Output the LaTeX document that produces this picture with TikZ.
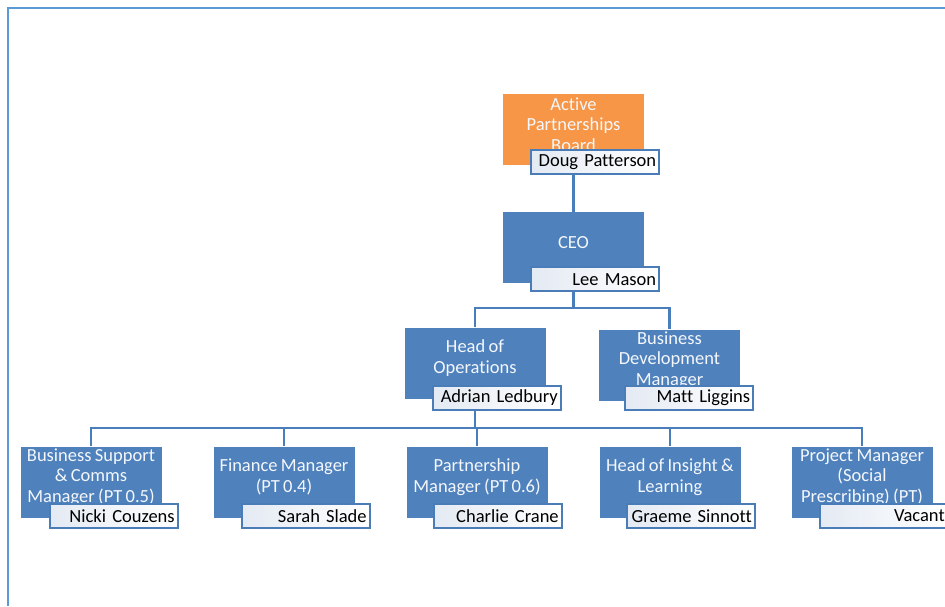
\documentclass[tikz,border=0pt]{standalone}
\usepackage{fontspec}
\setmainfont{Carlito}[Ligatures=CommonOff, WordSpace=0.8]
\usetikzlibrary{positioning,calc}
\definecolor{roleblue}{HTML}{4F81BD}
\definecolor{boardorange}{HTML}{F79646}
\definecolor{namedraw}{HTML}{4A7CB8}
\definecolor{namefade}{HTML}{E4EAF3}
\definecolor{linkblue}{HTML}{4A7EBB}
\definecolor{framecol}{HTML}{5B9BD5}
\definecolor{titlewhite}{HTML}{F4F7FB}

\begin{document}
\begin{tikzpicture}[x=1pt, y=-1pt,
    role/.style={fill=roleblue, minimum width=141pt, minimum height=71pt, inner sep=0pt},
    boardbox/.style={role, fill=boardorange},
    roletext/.style={text=titlewhite, align=center, font=\fontsize{18.5}{20.5}\selectfont},
    person/.style={draw=namedraw, line width=2pt, left color=namefade, right color=white,
        minimum width=128pt, minimum height=24pt, inner sep=0pt, text width=122pt,
        align=right, anchor=south east, font=\fontsize{18.5}{20.5}\selectfont},
    link/.style={draw=linkblue, line width=2.2pt}
]
\useasboundingbox (0,0) rectangle (945,606);
\fill[white] (0,0) rectangle (945,606);
\draw[framecol, line width=2.5pt] (8,606) -- (8,8) -- (946,8);

% top of the tree
\node[boardbox] (board) at (573.5,129.5) {};
\node[roletext] (boardtitle) at ([yshift=5pt]board.center) {Active\\Partnerships\\Board};
\node[person] (boardname) at ([xshift=16pt,yshift=-10pt]board.south east) {Doug Patterson};

\node[role] (ceo) at (573.5,247.5) {};
\node[roletext] (ceotitle) at ([yshift=5pt]ceo.center) {CEO};
\node[person] (ceoname) at ([xshift=16pt,yshift=-9pt]ceo.south east) {Lee Mason};

% second level
\node[role] (ops) at (475,363) {};
\node[roletext] (opstitle) at ([yshift=5pt]ops.center) {Head of\\Operations};
\node[person] (opsname) at ([xshift=16pt,yshift=-12pt]ops.south east) {Adrian Ledbury};

\node[role] (bdm) at (669.5,365) {};
\node[roletext] (bdmtitle) at ([yshift=5pt]bdm.center) {Business\\Development\\Manager};
\node[person] (bdmname) at ([xshift=14pt,yshift=-10pt]bdm.south east) {Matt Liggins};

% third level
\node[role] (comms) at (91,482) {};
\node[roletext] (commstitle) at ([yshift=5pt]comms.center) {Business Support\\\& Comms\\Manager (PT 0.5)};
\node[person] (commsname) at ([xshift=17pt,yshift=-11pt]comms.south east) {Nicki Couzens};

\node[role] (fin) at (284,482) {};
\node[roletext] (fintitle) at ([yshift=5pt]fin.center) {Finance Manager\\(PT 0.4)};
\node[person] (finname) at ([xshift=16pt,yshift=-11pt]fin.south east) {Sarah Slade};

\node[role] (part) at (477,482) {};
\node[roletext] (parttitle) at ([yshift=5pt]part.center) {Partnership\\Manager (PT 0.6)};
\node[person] (partname) at ([xshift=15pt,yshift=-11pt]part.south east) {Charlie Crane};

\node[role] (insight) at (670,482) {};
\node[roletext] (insighttitle) at ([yshift=5pt]insight.center) {Head of Insight \&\\Learning};
\node[person] (insightname) at ([xshift=15pt,yshift=-11pt]insight.south east) {Graeme Sinnott};

\node[role] (proj) at (862,482) {};
\node[roletext] (projtitle) at ([yshift=5pt]proj.center) {Project Manager\\(Social\\Prescribing) (PT)};
\node[person] (projname) at ([xshift=16pt,yshift=-11pt]proj.south east) {Vacant};

% connectors
\coordinate (bus1) at (573.5,308);
\coordinate (bus2) at (475,428);

\draw[link] (board |- boardname.south) -- (ceo.north);
\draw[link] (ceo |- ceoname.south) -- (bus1);
\draw[link] (ops.north) |- (bus1) -| (bdm.north);
\draw[link] (ops |- opsname.south) -- (bus2);
\draw[link] (comms.north) |- (bus2) -| (proj.north);
\draw[link] (bus2 -| fin) -- (fin.north);
\draw[link] (bus2 -| part) -- (part.north);
\draw[link] (bus2 -| insight) -- (insight.north);
\end{tikzpicture}
\end{document}
